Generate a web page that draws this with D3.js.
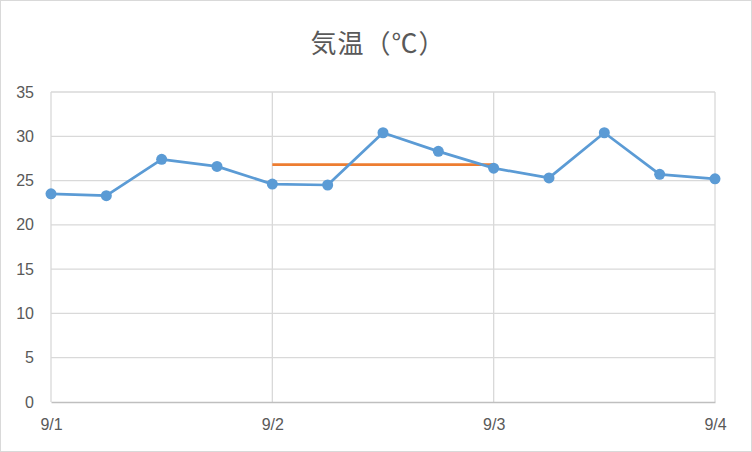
<!DOCTYPE html>
<html>
<head>
<meta charset="utf-8">
<script src="https://cdn.jsdelivr.net/npm/d3@7"></script>
<style>
  body { margin: 0; background: #fff; }
  svg { display: block; }
  .tick text { fill: #595959; }
</style>
</head>
<body>
<div id="chart"></div>
<script>
/*========== Data ===========*/
var dayLabels = ["9/1", "9/2", "9/3", "9/4"];
var hours = [0, 6, 12, 18, 24, 30, 36, 42, 48, 54, 60, 66, 72];
var temps = [23.5, 23.3, 27.4, 26.6, 24.6, 24.5, 30.4, 28.3, 26.4, 25.3, 30.4, 25.7, 25.2];
var avgHours = [24, 48];
var avgTemp = [26.8, 26.8];
var yTicks = [0, 5, 10, 15, 20, 25, 30, 35];

var width = 752, height = 452;
var margin = {top: 92, right: 37, bottom: 50, left: 51};

var svg = d3.select("#chart").append("svg")
    .attr("width", width)
    .attr("height", height);

// outer frame
svg.append("rect")
    .attr("x", 0.5).attr("y", 0.5)
    .attr("width", width - 1).attr("height", height - 1)
    .attr("fill", "#fff")
    .attr("stroke", "#d9d9d9");

var x = d3.scaleLinear().domain([0, 72]).range([margin.left, width - margin.right]);
var y = d3.scaleLinear().domain([0, 35]).range([height - margin.bottom, margin.top]);

/*========== Title ===========*/
svg.append("text")
    .attr("x", width / 2 + 2)
    .attr("y", 53)
    .attr("text-anchor", "middle")
    .style("font-family", "'Noto Sans CJK JP', sans-serif")
    .style("font-size", "26px")
    .style("letter-spacing", "1px")
    .style("fill", "#595959")
    .text("気温（℃）");

/*========== Grid ===========*/
svg.append("g")
    .selectAll("line.hgrid")
    .data(yTicks.slice(1))
    .enter()
    .append("line")
    .attr("x1", x(0)).attr("x2", x(72))
    .attr("y1", function (d) { return y(d); })
    .attr("y2", function (d) { return y(d); })
    .attr("stroke", "#d9d9d9")
    .attr("stroke-width", 1.3);

svg.append("g")
    .selectAll("line.vgrid")
    .data(dayLabels)
    .enter()
    .append("line")
    .attr("x1", function (d, i) { return x(i * 24); })
    .attr("x2", function (d, i) { return x(i * 24); })
    .attr("y1", y(35)).attr("y2", y(0))
    .attr("stroke", "#d9d9d9")
    .attr("stroke-width", 1.3);

/*========== Axes ===========*/
var yAxis = svg.append("g")
    .attr("transform", "translate(" + (margin.left - 17) + ",0)")
    .call(d3.axisLeft(y).tickValues(yTicks).tickSize(0).tickPadding(0));
yAxis.select(".domain").remove();
yAxis.selectAll("text")
    .attr("font-family", "'Liberation Sans', sans-serif")
    .attr("font-size", 16);

var xAxis = svg.append("g")
    .attr("transform", "translate(0," + y(0) + ")")
    .call(d3.axisBottom(x).tickValues([0, 24, 48, 72])
        .tickFormat(function (d, i) { return dayLabels[i]; })
        .tickSize(0).tickPadding(17));
xAxis.select(".domain").attr("stroke", "#bfbfbf").attr("stroke-width", 1.5);
xAxis.selectAll("text")
    .attr("font-family", "'Liberation Sans', sans-serif")
    .attr("font-size", 16);

/*========== Series ===========*/
var line = d3.line()
    .x(function (d) { return x(d[0]); })
    .y(function (d) { return y(d[1]); });

svg.append("path")
    .datum(d3.zip(avgHours, avgTemp))
    .attr("d", line)
    .attr("fill", "none")
    .attr("stroke", "#ed7d31")
    .attr("stroke-width", 2.75);

svg.append("path")
    .datum(d3.zip(hours, temps))
    .attr("d", line)
    .attr("fill", "none")
    .attr("stroke", "#5b9bd5")
    .attr("stroke-width", 2.75)
    .attr("stroke-linejoin", "round");

svg.append("g")
    .selectAll("circle")
    .data(d3.zip(hours, temps))
    .enter()
    .append("circle")
    .attr("cx", function (d) { return x(d[0]); })
    .attr("cy", function (d) { return y(d[1]); })
    .attr("r", 5.5)
    .attr("fill", "#5b9bd5");
</script>
</body>
</html>
